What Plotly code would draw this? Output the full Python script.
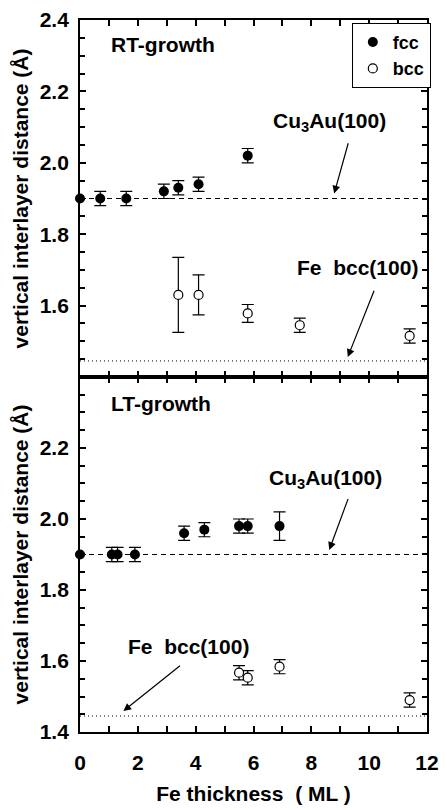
import plotly.graph_objects as go

# ---------------- data ----------------
# RT-growth (top panel)
rt_fcc_x = [0.0, 0.7, 1.6, 2.9, 3.4, 4.1, 5.8]
rt_fcc_y = [1.90, 1.90, 1.90, 1.92, 1.93, 1.94, 2.02]
rt_fcc_err = [0.0, 0.02, 0.02, 0.02, 0.02, 0.02, 0.02]

rt_bcc_x = [3.4, 4.1, 5.8, 7.6, 11.4]
rt_bcc_y = [1.63, 1.63, 1.578, 1.545, 1.515]
rt_bcc_err = [0.105, 0.056, 0.025, 0.02, 0.02]

# LT-growth (bottom panel)
lt_fcc_x = [0.0, 1.1, 1.3, 1.9, 3.6, 4.3, 5.5, 5.8, 6.9]
lt_fcc_y = [1.90, 1.90, 1.90, 1.90, 1.96, 1.97, 1.98, 1.98, 1.98]
lt_fcc_err = [0.0, 0.02, 0.02, 0.02, 0.02, 0.02, 0.02, 0.02, 0.04]

lt_bcc_x = [5.5, 5.8, 6.9, 11.4]
lt_bcc_y = [1.567, 1.553, 1.584, 1.490]
lt_bcc_err = [0.02, 0.02, 0.02, 0.02]

# reference interlayer distances
ref_x = [0, 12]
cu3au_d = 1.90
febcc_d = 1.445

x_ticks = [0, 2, 4, 6, 8, 10, 12]
top_y_ticks = [1.6, 1.8, 2.0, 2.2, 2.4]
bot_y_ticks = [1.4, 1.6, 1.8, 2.0, 2.2]

FONT = "Liberation Sans, Arial, Helvetica, sans-serif"
split = (733 - 376) / 716.0

fig = go.Figure()


def add_panel(fx, fy, fe, bx, by, be, xa, ya, show_legend):
    fig.add_trace(go.Scatter(
        x=ref_x, y=[cu3au_d, cu3au_d], mode="lines", xaxis=xa, yaxis=ya,
        line=dict(color="black", width=1, dash="5px,4px"), showlegend=False, hoverinfo="skip"))
    fig.add_trace(go.Scatter(
        x=ref_x, y=[febcc_d, febcc_d], mode="lines", xaxis=xa, yaxis=ya,
        line=dict(color="black", width=1, dash="1px,3px"), showlegend=False, hoverinfo="skip"))
    fig.add_trace(go.Scatter(
        x=fx, y=fy, mode="markers", name="fcc", xaxis=xa, yaxis=ya, cliponaxis=False,
        marker=dict(symbol="circle", size=10, color="black"),
        error_y=dict(type="data", array=fe, color="black", thickness=1.2, width=6),
        showlegend=show_legend, legendgroup="fcc"))
    fig.add_trace(go.Scatter(
        x=bx, y=by, mode="markers", name="bcc", xaxis=xa, yaxis=ya, cliponaxis=False,
        marker=dict(symbol="circle", size=9, color="white", line=dict(color="black", width=1.2)),
        error_y=dict(type="data", array=be, color="black", thickness=1.2, width=6),
        showlegend=show_legend, legendgroup="bcc"))


add_panel(rt_fcc_x, rt_fcc_y, rt_fcc_err, rt_bcc_x, rt_bcc_y, rt_bcc_err, "x", "y", True)
add_panel(lt_fcc_x, lt_fcc_y, lt_fcc_err, lt_bcc_x, lt_bcc_y, lt_bcc_err, "x2", "y2", False)

ytickfont = dict(family=FONT, size=21, color="black", weight="bold")
xtickfont = dict(family=FONT, size=21, color="black", weight="bold")
titlefont = dict(family=FONT, size=21, color="black", weight="bold")

common_x = dict(range=[0, 12], showline=True, linewidth=1.6, linecolor="black", mirror="ticks",
                ticks="inside", ticklen=6, tickwidth=1.5, tickcolor="black",
                tickvals=x_ticks, showgrid=False, zeroline=False,
                minor=dict(dtick=1, tick0=0, ticks="inside", ticklen=6, tickwidth=1.5,
                           tickcolor="black", showgrid=False))
common_y = dict(range=[1.4, 2.4], showline=True, linewidth=1.8, linecolor="black", mirror="ticks",
                ticks="inside", ticklen=6, tickwidth=1.5, tickcolor="black",
                showgrid=False, zeroline=False, tickfont=ytickfont, ticklabelstandoff=5,
                tickformat=".1f",
                title=dict(text="vertical interlayer distance (Å)", font=titlefont, standoff=5),
                minor=dict(dtick=0.05, tick0=1.4, ticks="inside", ticklen=5, tickwidth=1.5,
                           tickcolor="black", showgrid=False))

fig.update_layout(
    width=447, height=810,
    margin=dict(l=80, r=8, t=17, b=77),
    paper_bgcolor="white", plot_bgcolor="white",
    font=dict(family=FONT, size=20, color="black", weight="bold"),
    xaxis=dict(common_x, anchor="y", showticklabels=False),
    yaxis=dict(common_y, domain=[split, 1], tickvals=top_y_ticks, anchor="x"),
    xaxis2=dict(common_x, anchor="y2", matches="x", showticklabels=True, tickfont=xtickfont,
                ticklabelstandoff=11, ticklabeloverflow="allow",
                title=dict(text="Fe thickness\u00a0 ( ML )", font=titlefont, standoff=13)),
    yaxis2=dict(common_y, domain=[0, split], tickvals=bot_y_ticks, anchor="x2"),
    legend=dict(x=1.011, xanchor="right", y=0.996, yanchor="top",
                bordercolor="black", borderwidth=1, bgcolor="white",
                font=dict(family=FONT, size=18, color="black", weight="bold"),
                itemwidth=30, tracegroupgap=0),
    showlegend=True,
)

ann_font = dict(family=FONT, size=21, color="black", weight="bold")
texts = [
    ("x", "y", 1.0, 2.33, "RT-growth"),
    ("x", "y", 6.62, 2.115, "Cu<sub>3</sub>Au(100)"),
    ("x", "y", 7.45, 1.707, "Fe\u00a0 bcc(100)"),
    ("x2", "y2", 1.0, 2.324, "LT-growth"),
    ("x2", "y2", 6.45, 2.114, "Cu<sub>3</sub>Au(100)"),
    ("x2", "y2", 1.6, 1.641, "Fe\u00a0 bcc(100)"),
]
for xr, yr, x, y, t in texts:
    fig.add_annotation(xref=xr, yref=yr, x=x, y=y, text=t, showarrow=False,
                       xanchor="left", yanchor="middle", font=ann_font)

arrows = [
    ("x", "y", 9.29, 2.059, 8.79, 1.914),
    ("x", "y", 10.19, 1.646, 9.26, 1.456),
    ("x2", "y2", 9.29, 2.061, 8.62, 1.913),
    ("x2", "y2", 3.51, 1.590, 1.50, 1.459),
]
for xr, yr, tx, ty, hx, hy in arrows:
    fig.add_annotation(xref=xr, yref=yr, axref=xr, ayref=yr, x=hx, y=hy, ax=tx, ay=ty,
                       text="", showarrow=True, arrowhead=2, arrowsize=1.3, arrowwidth=1.2,
                       arrowcolor="black", standoff=0, startstandoff=0)

fig.write_html("out.html")
